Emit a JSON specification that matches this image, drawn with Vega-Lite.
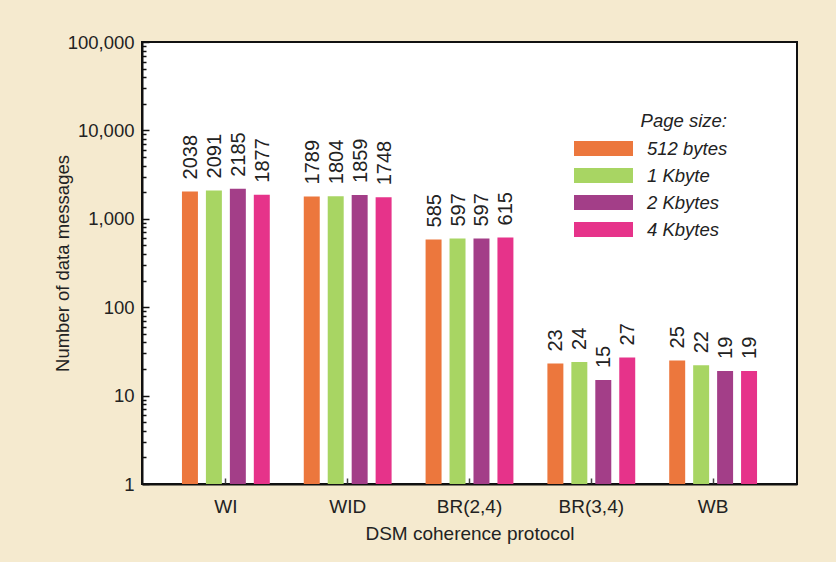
{
  "$schema": "https://vega.github.io/schema/vega-lite/v6.json",
  "width": 655,
  "height": 442,
  "autosize": {"type": "none"},
  "padding": {"left": 142, "top": 42, "right": 39, "bottom": 78},
  "background": "#F5EACF",
  "config": {
    "font": "Liberation Sans",
    "view": {"stroke": "#111111", "strokeWidth": 2, "fill": "white"}
  },
  "data": {
    "values": [
      {"protocol": "WI", "page": "512 bytes", "messages": 2038},
      {"protocol": "WI", "page": "1 Kbyte", "messages": 2091},
      {"protocol": "WI", "page": "2 Kbytes", "messages": 2185},
      {"protocol": "WI", "page": "4 Kbytes", "messages": 1877},
      {"protocol": "WID", "page": "512 bytes", "messages": 1789},
      {"protocol": "WID", "page": "1 Kbyte", "messages": 1804},
      {"protocol": "WID", "page": "2 Kbytes", "messages": 1859},
      {"protocol": "WID", "page": "4 Kbytes", "messages": 1748},
      {"protocol": "BR(2,4)", "page": "512 bytes", "messages": 585},
      {"protocol": "BR(2,4)", "page": "1 Kbyte", "messages": 597},
      {"protocol": "BR(2,4)", "page": "2 Kbytes", "messages": 597},
      {"protocol": "BR(2,4)", "page": "4 Kbytes", "messages": 615},
      {"protocol": "BR(3,4)", "page": "512 bytes", "messages": 23},
      {"protocol": "BR(3,4)", "page": "1 Kbyte", "messages": 24},
      {"protocol": "BR(3,4)", "page": "2 Kbytes", "messages": 15},
      {"protocol": "BR(3,4)", "page": "4 Kbytes", "messages": 27},
      {"protocol": "WB", "page": "512 bytes", "messages": 25},
      {"protocol": "WB", "page": "1 Kbyte", "messages": 22},
      {"protocol": "WB", "page": "2 Kbytes", "messages": 19},
      {"protocol": "WB", "page": "4 Kbytes", "messages": 19}
    ]
  },
  "encoding": {
    "x": {
      "field": "protocol",
      "type": "nominal",
      "sort": ["WI", "WID", "BR(2,4)", "BR(3,4)", "WB"],
      "scale": {"paddingInner": 0.279, "paddingOuter": 0.328},
      "title": "DSM coherence protocol",
      "axis": {
        "labelAngle": 0,
        "labelFontSize": 19,
        "labelColor": "#222222",
        "labelPadding": 19,
        "tickSize": -6,
        "tickColor": "#444444",
        "tickWidth": 1.5,
        "domainColor": "#111111",
        "domainWidth": 2,
        "titleFontSize": 19,
        "titleFontWeight": "normal",
        "titleColor": "#222222",
        "titleBaseline": "top",
        "titleY": 40
      }
    },
    "xOffset": {
      "field": "page",
      "type": "nominal",
      "sort": ["512 bytes", "1 Kbyte", "2 Kbytes", "4 Kbytes"],
      "scale": {"paddingInner": 0.333, "paddingOuter": 0}
    },
    "y": {
      "field": "messages",
      "type": "quantitative",
      "scale": {"type": "log", "domain": [1, 100000]},
      "title": "Number of data messages",
      "axis": {
        "orient": "left",
        "values": [1, 2, 3, 4, 5, 6, 7, 8, 9, 10, 20, 30, 40, 50, 60, 70, 80, 90, 100, 200, 300, 400, 500, 600, 700, 800, 900, 1000, 2000, 3000, 4000, 5000, 6000, 7000, 8000, 9000, 10000, 20000, 30000, 40000, 50000, 60000, 70000, 80000, 90000, 100000],
        "labelExpr": "indexof([1, 10, 100, 1000, 10000, 100000], datum.value) >= 0 ? format(datum.value, ',') : ''",
        "grid": false,
        "tickSize": {"condition": {"test": "indexof([1, 10, 100, 1000, 10000, 100000], datum.value) >= 0", "value": -7}, "value": -4},
        "tickColor": "#111111",
        "tickWidth": 1.5,
        "labelPadding": 15,
        "labelFontSize": 18.5,
        "labelColor": "#222222",
        "domainColor": "#111111",
        "domainWidth": 2,
        "titleFontSize": 18.5,
        "titleFontWeight": "normal",
        "titleColor": "#222222",
        "titleAngle": -90,
        "titleBaseline": "alphabetic",
        "titleX": -74
      }
    }
  },
  "layer": [
    {
      "mark": {"type": "bar"},
      "encoding": {
        "y2": {"datum": 1},
        "color": {
          "field": "page",
          "type": "nominal",
          "sort": ["512 bytes", "1 Kbyte", "2 Kbytes", "4 Kbytes"],
          "scale": {
            "domain": ["512 bytes", "1 Kbyte", "2 Kbytes", "4 Kbytes"],
            "range": ["#EC773D", "#A8D563", "#A33E88", "#E6338A"]
          },
          "legend": {
            "title": "Page size:",
            "orient": "none",
            "legendX": 432,
            "legendY": 70,
            "titleAnchor": "end",
            "titleFontSize": 18.5,
            "titleFontStyle": "italic",
            "titleFontWeight": "normal",
            "titleColor": "#222222",
            "titlePadding": 8,
            "labelFontSize": 18.5,
            "labelFontStyle": "italic",
            "labelColor": "#222222",
            "labelOffset": 14,
            "symbolType": "M-1,-0.254H1V0.254H-1Z",
            "symbolSize": 3481,
            "symbolStrokeWidth": 0,
            "symbolOpacity": 1,
            "clipHeight": 20,
            "rowPadding": 7
          }
        }
      }
    },
    {
      "mark": {"type": "text", "angle": -90, "align": "left", "baseline": "middle", "dx": 12, "dy": 1, "fontSize": 20, "color": "#222222"},
      "encoding": {
        "text": {"field": "messages", "type": "quantitative"}
      }
    }
  ]
}
